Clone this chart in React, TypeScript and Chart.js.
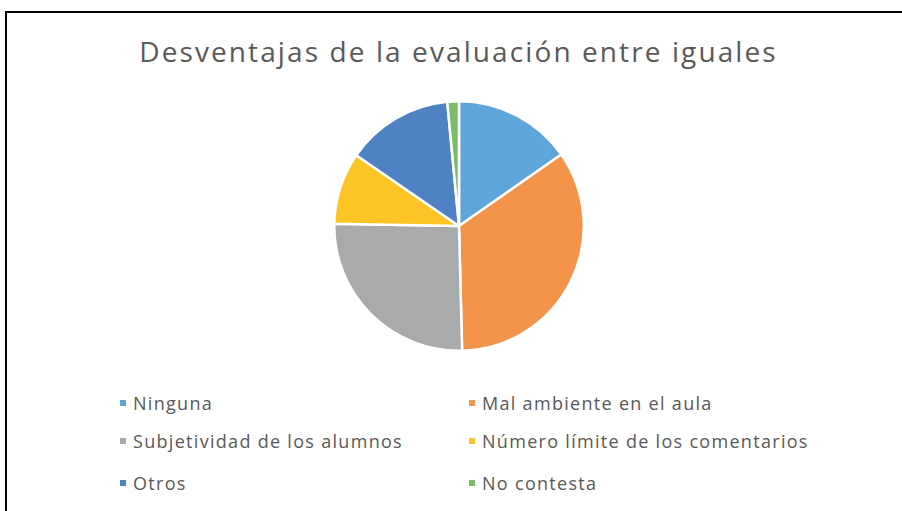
import React, { useEffect, useRef } from "react";
import { Chart, registerables } from "chart.js";

Chart.register(...registerables);

const TITLE = "Desventajas de la evaluación entre iguales";
const labels = [
  "Ninguna",
  "Mal ambiente en el aula",
  "Subjetividad de los alumnos",
  "Número límite de los comentarios",
  "Otros",
  "No contesta",
];
const values = [15.3, 34.3, 25.7, 9.3, 13.9, 1.5];
const colors = ["#5EA5DA", "#F4934A", "#A8AAAB", "#FDC425", "#4F82C3", "#7BBE6A"];

const FONT = "'Open Sans', sans-serif";
const TEXT = "#595959";

export default function App() {
  const ref = useRef<HTMLCanvasElement | null>(null);
  useEffect(() => {
    document.body.style.overflow = "hidden";
    const chart = new Chart(ref.current!, {
      type: "pie",
      data: {
        labels,
        datasets: [
          {
            data: values,
            backgroundColor: colors,
            borderColor: "#ffffff",
            borderWidth: 2.5,
          },
        ],
      },
      options: {
        animation: false,
        responsive: false,
        maintainAspectRatio: false,
        layout: { padding: 0 },
        plugins: { legend: { display: false }, title: { display: false }, tooltip: { enabled: false } },
      },
    });
    return () => chart.destroy();
  }, []);

  const legendPos = [
    [120, 403],
    [469, 403],
    [120, 441],
    [469, 441],
    [120, 483],
    [469, 483],
  ];

  return (
    <div style={{ position: "absolute", left: 0, top: 0, width: 902, height: 511, background: "#fff", overflow: "hidden" }}>
      <div
        style={{
          position: "absolute",
          left: 5,
          top: 11,
          width: 897,
          height: 500,
          borderTop: "2px solid #000",
          borderLeft: "2px solid #000",
          boxSizing: "border-box",
        }}
      />
      <div
        style={{
          position: "absolute",
          left: 0,
          width: 917,
          top: 32,
          textAlign: "center",
          fontFamily: FONT,
          fontSize: 28,
          letterSpacing: 2.1,
          color: TEXT,
          whiteSpace: "nowrap",
        }}
      >
        {TITLE}
      </div>
      <canvas
        ref={ref}
        width={252}
        height={252}
        style={{ position: "absolute", left: 333, top: 100, width: 252, height: 252 }}
      />
      {labels.map((l, i) => (
        <div
          key={l}
          style={{
            position: "absolute",
            left: legendPos[i][0],
            top: legendPos[i][1] - 13,
            height: 26,
            display: "flex",
            alignItems: "center",
            fontFamily: FONT,
            fontSize: 18,
            letterSpacing: 1.3,
            color: TEXT,
            whiteSpace: "nowrap",
          }}
        >
          <span style={{ display: "inline-block", width: 6, height: 6, background: colors[i], marginRight: 7 }} />
          {l}
        </div>
      ))}
    </div>
  );
}
